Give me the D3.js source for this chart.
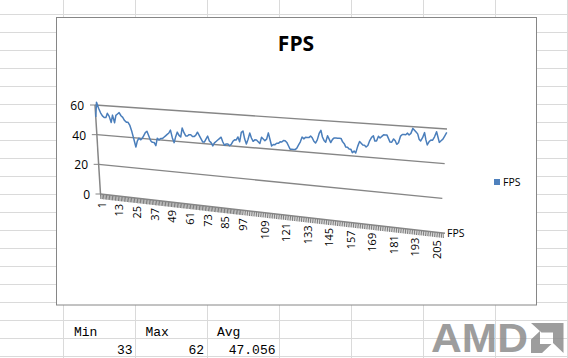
<!DOCTYPE html>
<html><head><meta charset="utf-8">
<script src="https://cdn.jsdelivr.net/npm/d3@7"></script>
<style>html,body{margin:0;padding:0;background:#fff;overflow:hidden}svg{display:block}</style>
</head><body><div id="c"></div>
<script>
const seriesName = "FPS";
const fps = [
 52,62,58,55,53,52,52,55,53,49, 54,49,54,55,56,54,53,51,50,50,
 48,44,39,34,38,40,39,40,42,44, 45,42,39,38,38,36,41,40,41,41,
 42,43,44,45,47,42,39,43,46,44, 43,49,46,44,44,45,45,44,44,45,
 47,45,43,41,41,43,45,42,41,39, 41,42,43,44,45,42,40,41,41,40,
 41,43,44,44,46,43,49,50,45,42, 45,49,46,44,45,45,44,43,47,46,
 45,46,50,46,42,43,43,44,44,45, 45,46,46,45,43,41,41,41,41,42,
 44,46,49,48,49,49,49,50,49,47, 46,48,52,54,50,48,47,51,49,47,
 49,50,50,50,50,50,48,47,45,45, 44,44,42,43,42,46,49,48,47,47,
 46,47,50,52,53,50,50,53,52,53, 54,54,54,52,50,50,52,51,49,50,
 54,55,55,55,56,55,56,59,58,57, 56,53,52,54,57,53,50,52,53,53,
 55,58,55,52,53,54,56,58];
const yTicks = [0,20,40,60];
const catLabels = [1,13,25,37,49,61,73,85,97,109,121,133,145,157,169,181,193,205];
const statNames = ["Min","Max","Avg"];
const statValues = ["33","62","47.056"];
const sheetColumns = d3.range(8);
const sheetRows = d3.range(20);

const W=568,H=358;
const svg=d3.select("#c").append("svg").attr("width",W).attr("height",H);
const sans='"Open Sans","Noto Sans",sans-serif';
const GRAY="#868686";

// spreadsheet grid
const colX=d3.scaleLinear([0,1],[63.5,135.5]), rowY=d3.scaleLinear([0,1],[14.5,32.5]);
svg.append("g").selectAll("line").data(sheetColumns).join("line")
  .attr("x1",colX).attr("x2",colX).attr("y1",0).attr("y2",H).attr("stroke","#dadada");
svg.append("g").selectAll("line").data(sheetRows).join("line")
  .attr("y1",rowY).attr("y2",rowY).attr("x1",0).attr("x2",W).attr("stroke","#dadada");

// chart frame
svg.append("rect").attr("x",56.5).attr("y",17.5).attr("width",480).attr("height",287.5)
  .attr("fill","#fff").attr("stroke",GRAY).attr("stroke-width",1);

svg.append("text").attr("x",296).attr("y",51).attr("text-anchor","middle")
  .attr("font-family",sans).attr("font-weight",700).attr("font-size",21).text(seriesName);

// back wall, projected: value -> position on the left and right edge
const leftX=d3.scaleLinear([0,60],[100.5,95]), leftY=d3.scaleLinear([0,60],[194,105]);
const rightX=d3.scaleLinear([0,60],[440,447]), rightY=d3.scaleLinear([0,60],[233,129]);
const tx=d3.scaleLinear([0,fps.length-1],[0,1]);
const wall=(i,v)=>{const t=tx(i);return [leftX(v)+(rightX(v)-leftX(v))*t,leftY(v)+(rightY(v)-leftY(v))*t];};

const grid=svg.append("g");
grid.selectAll("line").data(yTicks.filter(d=>d>0)).join("line")
  .attr("x1",d=>leftX(d)).attr("y1",d=>leftY(d)).attr("x2",d=>rightX(d)).attr("y2",d=>rightY(d))
  .attr("stroke",GRAY).attr("stroke-width",1.4);
// y axis
grid.append("line").attr("x1",leftX(60)).attr("y1",leftY(60)).attr("x2",leftX(0)).attr("y2",leftY(0))
  .attr("stroke",GRAY).attr("stroke-width",1.5);
grid.selectAll(".st").data(yTicks).join("line").attr("class","st")
  .attr("x1",d=>leftX(d)-5).attr("x2",d=>leftX(d)).attr("y1",d=>leftY(d)).attr("y2",d=>leftY(d))
  .attr("stroke",GRAY).attr("stroke-width",1);
svg.append("g").selectAll("text").data(yTicks).join("text")
  .attr("x",d=>leftX(d)-11+ (60-d)*0.01).attr("y",d=>leftY(d)+5)
  .attr("text-anchor","end").attr("font-family",sans).attr("font-size",12).attr("fill","#000").text(d=>d);

// category axis in perspective: spacing widens to the right
const catX=d3.scaleLinear([1,97,209],[100.5,242,443]);
const catY=d3.scaleLinear([100.5,443],[194,233]);
const cats=d3.range(1,210);
svg.append("g").selectAll("line").data(cats).join("line")
  .attr("x1",d=>catX(d)).attr("x2",d=>catX(d)+0.4)
  .attr("y1",d=>catY(catX(d))).attr("y2",d=>catY(catX(d))+5)
  .attr("stroke","#808080").attr("stroke-width",1.1);
svg.append("line").attr("x1",catX(1)).attr("y1",catY(catX(1))).attr("x2",445).attr("y2",catY(445))
  .attr("stroke",GRAY).attr("stroke-width",1.6);
svg.append("g").selectAll("text").data(catLabels).join("text")
  .attr("transform",d=>{const x=catX(d)+5,y=catY(catX(d))+8;return `translate(${x},${y}) rotate(-90)`;})
  .attr("text-anchor","end").attr("font-family",sans).attr("font-size",11).text(d=>d);
svg.append("text").attr("x",447).attr("y",237).attr("font-family",sans).attr("font-size",10.5).text(seriesName);

// series
svg.append("path").datum(fps)
  .attr("d",d3.line().x((d,i)=>wall(i,d)[0]).y((d,i)=>wall(i,d)[1]))
  .attr("fill","none").attr("stroke","#4a7ebb").attr("stroke-width",1.5).attr("stroke-linejoin","round");

// legend
svg.append("rect").attr("x",494).attr("y",179).attr("width",6).attr("height",6).attr("fill","#4f81bd");
svg.append("text").attr("x",503).attr("y",186).attr("font-family",sans).attr("font-size",10.5).text(seriesName);

// cells
const cellIdx=d3.scaleLinear([0,1],[74,145.5]);
const mono='"Liberation Mono","DejaVu Sans Mono",monospace';
svg.append("g").selectAll("text").data(statNames).join("text")
  .attr("x",(d,i)=>cellIdx(i)).attr("y",336).attr("font-family",mono).attr("font-size",13).text(d=>d);
svg.append("g").selectAll("text").data(statValues).join("text")
  .attr("x",(d,i)=>cellIdx(i)+58.5).attr("y",354).attr("text-anchor","end").attr("font-family",mono).attr("font-size",13).text(d=>d);

// logo
const logo=svg.append("g").attr("fill","#8c8c8c").attr("opacity",0.85);
logo.append("text").attr("x",431).attr("y",351.5).attr("font-family",'"Liberation Sans",sans-serif')
  .attr("font-weight",700).attr("font-size",40).attr("textLength",97).attr("lengthAdjust","spacingAndGlyphs").text("AMD");
logo.append("path").attr("d","M531,323H563.5V353L553,343V332.5H541.5Z");
logo.append("path").attr("d","M531,353V339.5L540,331V344H551.5L542,353Z");
</script></body></html>
